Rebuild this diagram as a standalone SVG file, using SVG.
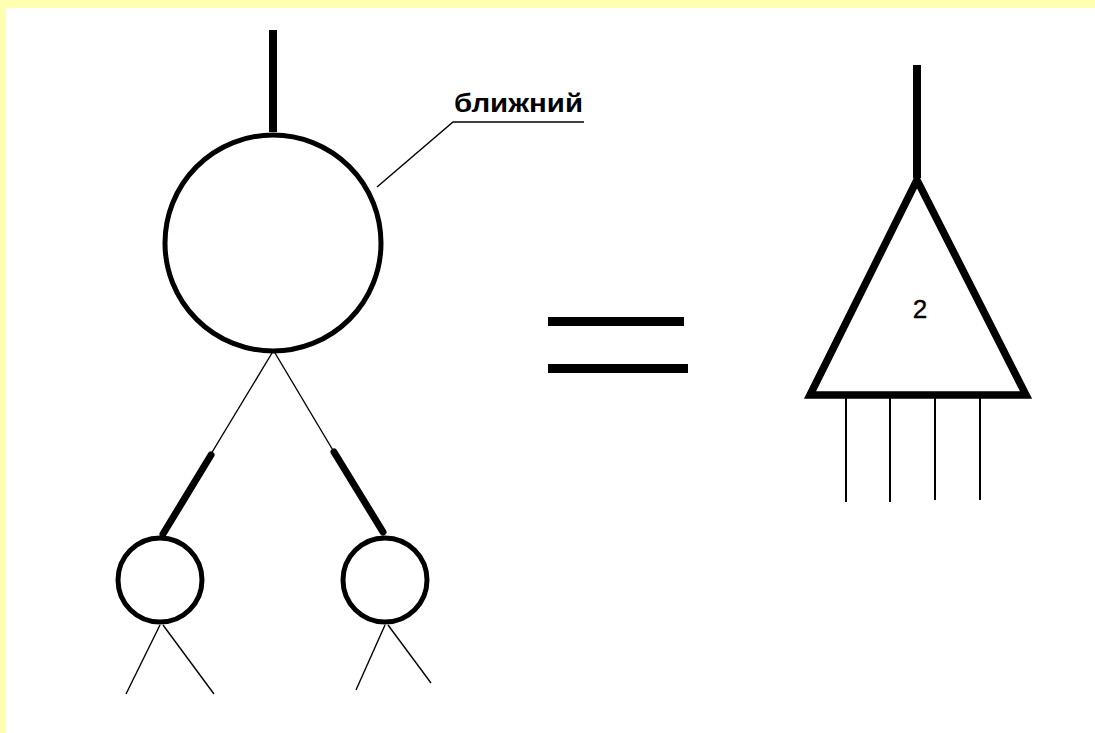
<svg xmlns="http://www.w3.org/2000/svg" width="1095" height="733" viewBox="0 0 1095 733">
<style>
.thick{stroke:#000;stroke-width:8;fill:none}
.ring{stroke:#000;stroke-width:5;fill:#fff}
.thin{stroke:#000;stroke-width:1.4;fill:none}
.branch{stroke:#000;stroke-width:7;fill:none;stroke-linecap:round}
.lbl{font-family:"Liberation Sans",Arial,sans-serif;fill:#000}
</style>
<rect x="0" y="0" width="1095" height="733" fill="#ffffb0"/>
<rect x="5" y="8" width="1090" height="725" fill="#fff"/>
<g id="connectors">
<line class="thick" x1="273" y1="30" x2="273" y2="132"/>
<line class="thin" x1="272" y1="353" x2="211" y2="454"/>
<line class="thin" x1="275" y1="353" x2="334" y2="452"/>
<line class="branch" x1="211" y1="455" x2="163" y2="534"/>
<line class="branch" x1="334" y1="452" x2="383" y2="532"/>
<line class="thin" x1="160" y1="625" x2="126" y2="694"/>
<line class="thin" x1="163" y1="625" x2="214" y2="694"/>
<line class="thin" x1="385" y1="625" x2="356" y2="690"/>
<line class="thin" x1="388" y1="625" x2="431" y2="683"/>
<polyline class="thin" stroke-width="1.8" points="377,187 453,122 584,122"/>
<line class="thick" x1="917" y1="65" x2="917" y2="178"/>
<line stroke="#000" stroke-width="2" x1="846" y1="396" x2="846" y2="502"/>
<line stroke="#000" stroke-width="2" x1="890" y1="396" x2="890" y2="502"/>
<line stroke="#000" stroke-width="2" x1="935" y1="396" x2="935" y2="500"/>
<line stroke="#000" stroke-width="2" x1="980" y1="396" x2="980" y2="500"/>
</g>
<g id="root"><circle class="ring" cx="273" cy="243" r="108"/></g>
<g id="leftChild"><circle class="ring" cx="160" cy="580" r="42"/></g>
<g id="rightChild"><circle class="ring" cx="385" cy="580" r="42"/></g>
<g id="label"><text class="lbl" x="454" y="112" font-size="26" font-weight="bold" textLength="129" lengthAdjust="spacingAndGlyphs">ближний</text></g>
<g id="equals">
<rect x="548" y="317" width="136" height="9" fill="#000"/>
<rect x="548" y="364" width="140" height="9" fill="#000"/>
</g>
<g id="triangle">
<polygon points="917,180 810,395 1026,395" fill="none" stroke="#000" stroke-width="7.5" stroke-linejoin="miter"/>
<text class="lbl" x="920" y="318" font-size="26" stroke="#000" stroke-width="0.4" text-anchor="middle">2</text>
</g>
</svg>
